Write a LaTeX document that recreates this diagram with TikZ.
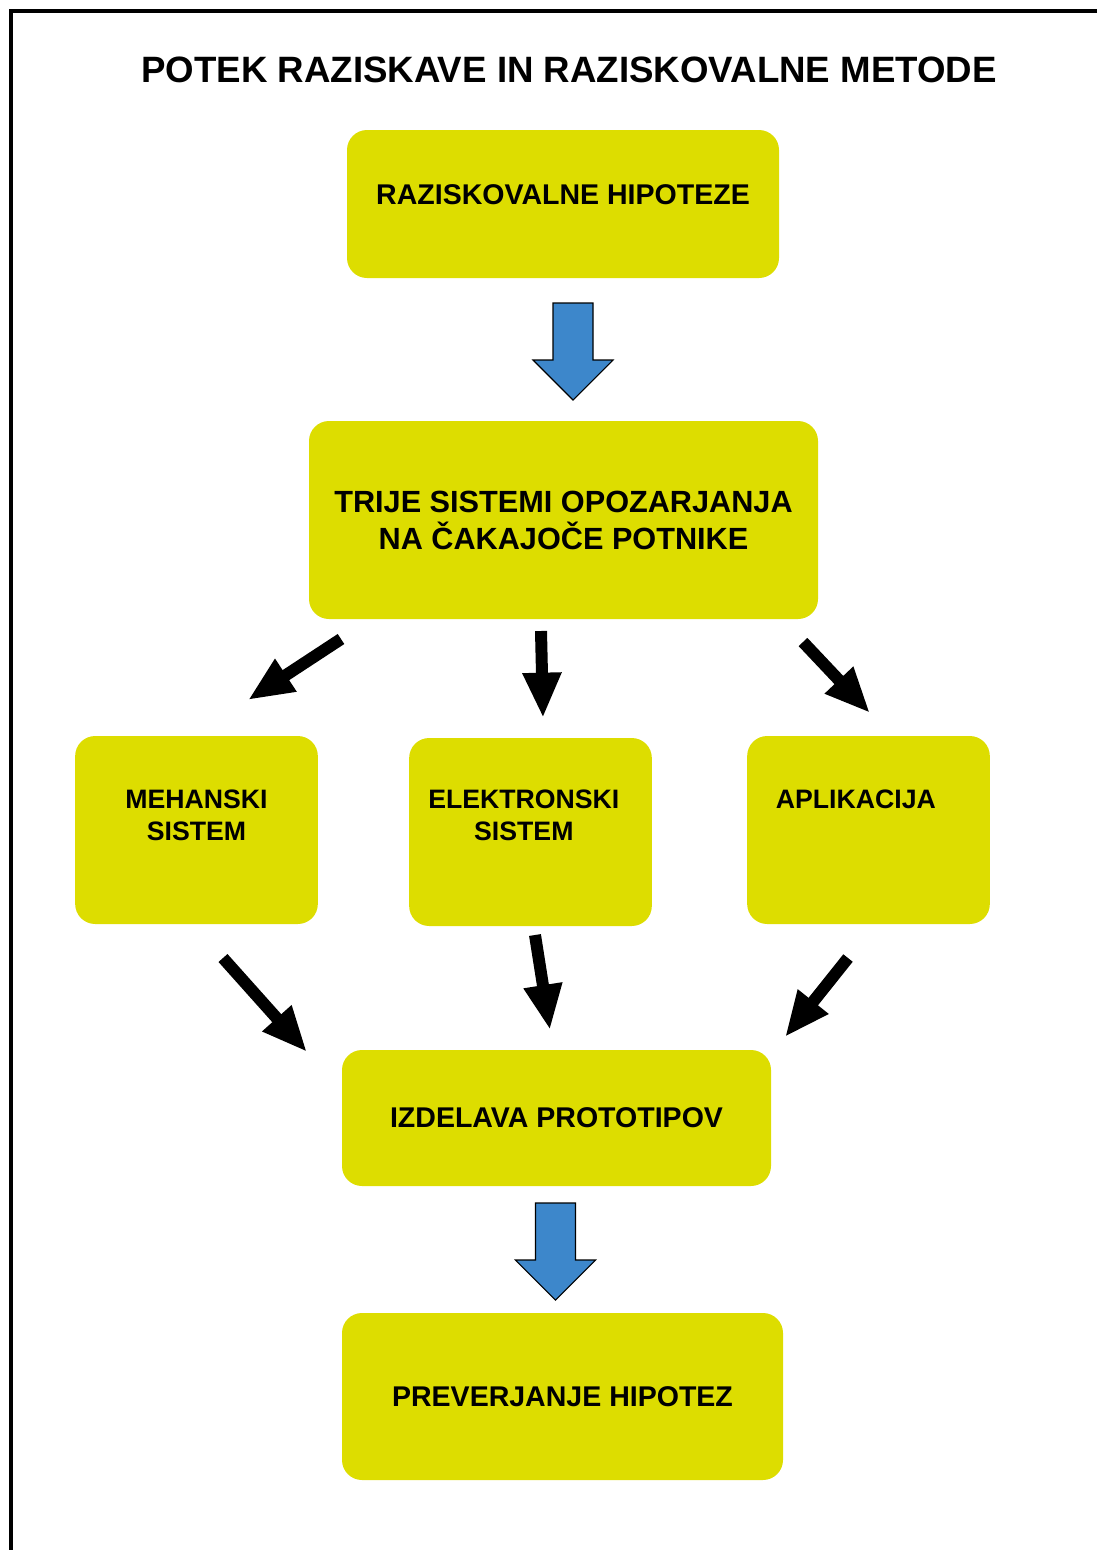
\documentclass[tikz,border=0pt]{standalone}
\usepackage{fontspec}
\setmainfont{Liberation Sans}
\usetikzlibrary{arrows.meta,positioning,calc}
\definecolor{boxyellow}{RGB}{221,221,0}
\definecolor{flowblue}{RGB}{61,135,203}

\begin{document}
\begin{tikzpicture}[x=0.75pt,y=-0.75pt,
    box/.style={fill=boxyellow, rounded corners=15pt, align=center,
      font=\bfseries\fontsize{21.4}{25.7}\selectfont},
    smallbox/.style={box, minimum width=182pt, minimum height=141pt,
      font=\bfseries\fontsize{20}{24}\selectfont},
    down/.style={draw=black, line width=0.8pt, fill=flowblue, line join=miter},
    jump/.style={line width=9pt, -{Triangle[length=34pt,width=27pt]}}
    ]
    \useasboundingbox (0,0) rectangle (1097,1550);
    % frame, open to the right and below
    \draw[line width=2.4pt] (1097,11) -- (11,11) -- (11,1550);
    \node[font=\bfseries\fontsize{27.5}{33}\selectfont] (title) at (569,70)
    {POTEK RAZISKAVE IN RAZISKOVALNE METODE};
    % main column
    \node[box, minimum width=324pt, minimum height=111pt, text height=10pt, text depth=10pt]
    (hip) at (563,204) {RAZISKOVALNE HIPOTEZE};
    \node[box, minimum width=381.75pt, minimum height=148.5pt,
      font=\bfseries\fontsize{23}{27.75}\selectfont]
    (sys) at (563.5,520) {TRIJE SISTEMI OPOZARJANJA\\NA ČAKAJOČE POTNIKE};
    % the three systems, text near the top
    \node[smallbox, text height=24pt, text depth=8pt] (meh) at (196.5,830) {MEHANSKI\\SISTEM};
    \node[smallbox, text height=21pt, text depth=8pt] (ele) at (530.5,832)
    {ELEKTRONSKI\hspace*{10pt}\\SISTEM\hspace*{10pt}};
    \node[smallbox, text height=8pt, text depth=40pt] (apl) at (868.5,830)
    {APLIKACIJA\hspace*{19pt}};
    \node[box, minimum width=321.75pt, minimum height=102pt]
    (izd) at (556.5,1118) {IZDELAVA PROTOTIPOV};
    \node[box, minimum width=330.75pt, minimum height=125.25pt]
    (pre) at (562.5,1396.5) {PREVERJANJE HIPOTEZ};
    % blue block arrows
    \coordinate (b1) at (573,303);
    \coordinate (b2) at (555.5,1203);
    \draw[down] (b1) ++(-20,0) -- ++(40,0) -- ++(0,57) -- ++(20,0) -- ++(-40,40)
    -- ++(-40,-40) -- ++(20,0) -- cycle;
    \draw[down] (b2) ++(-20,0) -- ++(40,0) -- ++(0,57) -- ++(20,0) -- ++(-40,40)
    -- ++(-40,-40) -- ++(20,0) -- cycle;
    % black arrows, out of the systems box
    \coordinate (a1) at (341,639);  \coordinate (a1t) at (248,700);
    \coordinate (a2) at (541,631);  \coordinate (a2t) at (543,718);
    \coordinate (a3) at (803,642);  \coordinate (a3t) at (870,713);
    \draw[jump] (a1) -- (a1t);
    \draw[jump] (a2) -- (a2t);
    \draw[jump] (a3) -- (a3t);
    % black arrows, into the prototype box
    \coordinate (c1) at (223,958);  \coordinate (c1t) at (307,1052);
    \coordinate (c2) at (535,935);  \coordinate (c2t) at (550,1030);
    \coordinate (c3) at (848,958);  \coordinate (c3t) at (785,1037);
    \draw[jump] (c1) -- (c1t);
    \draw[jump] (c2) -- (c2t);
    \draw[jump] (c3) -- (c3t);
\end{tikzpicture}
\end{document}
